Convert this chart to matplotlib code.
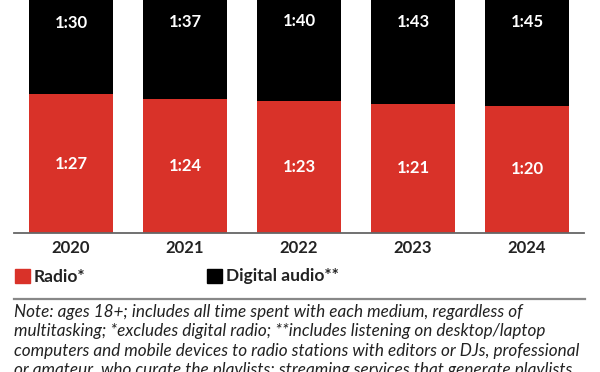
import matplotlib
matplotlib.use("Agg")
import matplotlib.pyplot as plt
from matplotlib.patches import Rectangle

years = ["2020", "2021", "2022", "2023", "2024"]
radio_min = [87, 84, 83, 81, 80]          # 1:27, 1:24, ...
digital_min = [90, 97, 100, 103, 105]     # 1:30, 1:37, ...

note_lines = [
    "Note: ages 18+; includes all time spent with each medium, regardless of",
    "multitasking; *excludes digital radio; **includes listening on desktop/laptop",
    "computers and mobile devices to radio stations with editors or DJs, professional",
    "or amateur, who curate the playlists; streaming services that generate playlists",
]

red = "#d93229"
W, H = 600, 372

def fx(px):
    return px / W

def fy(py):
    return 1 - py / H

def hm(m):
    return f"{m // 60}:{m % 60:02d}"

plt.rcParams["font.family"] = ["Lato", "DejaVu Sans"]

fig = plt.figure(figsize=(6, 3.72), dpi=100)
ax = fig.add_axes([fx(14), fy(232.7), fx(570), 232.7 / H])

x = range(len(years))
ax.bar(x, radio_min, width=0.745, color=red)
ax.bar(x, digital_min, width=0.745, bottom=radio_min, color="black")

for i in x:
    r, d = radio_min[i], digital_min[i]
    ax.text(i, r / 2, hm(r), ha="center", va="center", color="white",
            fontsize=12, fontweight="bold")
    ax.text(i, r + d / 2, hm(d), ha="center", va="center", color="white",
            fontsize=12, fontweight="bold")

ax.set_xlim(-0.5, 4.5)
ax.set_ylim(0, 232.7 / 1.59)
ax.set_xticks(list(x), years, fontsize=12, fontweight="bold", color="#222222")
ax.tick_params(axis="x", length=0, pad=5)
ax.set_yticks([])
for s in ["top", "left", "right"]:
    ax.spines[s].set_visible(False)
ax.spines["bottom"].set_color("#666666")
ax.spines["bottom"].set_linewidth(1.3)

# legend
fig.add_artist(Rectangle((fx(15), fy(283)), fx(15), 14 / H, color=red,
                         transform=fig.transFigure))
fig.text(fx(34), fy(276.5), "Radio*", fontsize=12.5, fontweight="bold",
         color="#222222", va="center")
fig.add_artist(Rectangle((fx(207), fy(283)), fx(15), 14 / H, color="black",
                         transform=fig.transFigure))
fig.text(fx(226), fy(276.5), "Digital audio**", fontsize=12.5, fontweight="bold",
         color="#222222", va="center")

# separator
fig.add_artist(plt.Line2D([fx(14), fx(585)], [fy(299), fy(299)], color="#888888",
                          lw=1.6, transform=fig.transFigure))

# note, one line at a time (last one runs off the bottom like the original)
for k, line in enumerate(note_lines):
    fig.text(fx(14), fy(317 + 19.4 * k), line, fontsize=12.3, style="italic",
             color="#222222", va="baseline", ha="left")

fig.savefig("out.png", dpi=100)
